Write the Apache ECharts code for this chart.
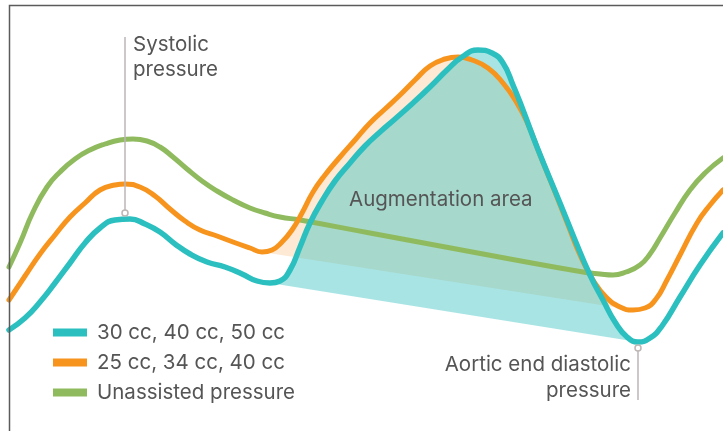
<!DOCTYPE html>
<html>
<head>
<meta charset="utf-8">
<script src="https://cdn.jsdelivr.net/npm/echarts@6/dist/echarts.min.js"></script>
<style>html,body{margin:0;padding:0;background:#fff}#c{width:723px;height:431px}</style>
</head>
<body>
<div id="c"></div>
<script>
// Curves: [time, pressure-position]
const tealCurve = [[9,330],[25,318],[40,302],[55,283],[70,263],[85,243],[100,228],[115,220],[130,219],[145,224],[160,232],[175,244],[190,254],[207,262],[225,267],[242,274],[257,281],[270,283],[280,281],[290,270],[300,247],[310,223],[322,201],[335,181],[350,163],[365,146],[380,132],[395,119],[413,103],[430,87],[447,70],[462,57],[478,50],[492,53],[503,63],[513,85],[523,110],[537,147],[560,203],[575,240],[590,275],[603,300],[615,322],[627,337],[638,342],[650,338],[662,326],[680,297],[700,265],[723,233]];
const orangeCurve = [[9,300],[25,276],[40,254],[55,235],[70,217],[85,203],[100,190],[115,185],[125,184],[140,187],[155,196],[170,209],[185,221],[200,230],[217,236],[233,242],[250,248],[262,252],[272,250],[282,242],[292,230],[302,213],[313,192],[325,175],[340,157],[355,140],[370,123],[385,109],[400,95],[415,80],[430,66],[445,59],[458,57],[472,60],[488,68],[503,83],[517,103],[527,122],[540,155],[555,192],[568,225],[580,255],[593,280],[606,297],[620,307],[633,310],[645,308],[656,299],[667,280],[680,255],[697,223],[710,205],[723,190]];
const greenCurve = [[9,267],[20,243],[33,212],[47,187],[60,172],[75,159],[90,150],[105,144],[120,140],[133,139],[147,141],[160,147],[173,157],[187,169],[202,181],[217,191],[233,200],[250,208],[265,213],[280,217],[300,220],[370,233],[440,246],[510,259],[583,272],[600,274],[613,275],[626,272],[640,265],[650,254],[660,238],[675,213],[690,190],[705,173],[723,158]];
const tealFillRange = [270, 638];
const orangeFillRange = [262, 633];
const seriesNames = ['30 cc, 40 cc, 50 cc', '25 cc, 34 cc, 40 cc', 'Unassisted pressure'];

const TEAL = '#2bbfbf', ORANGE = '#f7941d', GREEN = '#8fbb5e', TXT = '#555555', ANN = '#bdb6b4';
const FONT = 'Inter';
const FS = 20.5;

function smoothPath(pts, smooth) {
  let d = '', prevX, prevY, cpx0, cpy0;
  const n = pts.length;
  for (let i = 0; i < n; i++) {
    const x = pts[i][0], y = pts[i][1];
    if (i === 0) { d += 'M' + x + ' ' + y; cpx0 = x; cpy0 = y; }
    else {
      let cpx1, cpy1, nextCpx0, nextCpy0;
      if (i + 1 >= n) { cpx1 = x; cpy1 = y; }
      else {
        const nextX = pts[i+1][0], nextY = pts[i+1][1];
        let vx = nextX - prevX, vy = nextY - prevY;
        const lenPrev = Math.hypot(x - prevX, y - prevY), lenNext = Math.hypot(nextX - x, nextY - y);
        const r = lenNext / (lenNext + lenPrev);
        nextCpx0 = x + vx * smooth * r; nextCpy0 = y + vy * smooth * r;
        nextCpx0 = Math.max(Math.min(nextCpx0, Math.max(nextX, x)), Math.min(nextX, x));
        nextCpy0 = Math.max(Math.min(nextCpy0, Math.max(nextY, y)), Math.min(nextY, y));
        vx = nextCpx0 - x; vy = nextCpy0 - y;
        cpx1 = x - vx * lenPrev / lenNext; cpy1 = y - vy * lenPrev / lenNext;
        cpx1 = Math.max(Math.min(cpx1, Math.max(prevX, x)), Math.min(prevX, x));
        cpy1 = Math.max(Math.min(cpy1, Math.max(prevY, y)), Math.min(prevY, y));
        vx = x - cpx1; vy = y - cpy1;
        nextCpx0 = x + vx * lenNext / lenPrev; nextCpy0 = y + vy * lenNext / lenPrev;
      }
      d += 'C' + cpx0 + ' ' + cpy0 + ' ' + cpx1 + ' ' + cpy1 + ' ' + x + ' ' + y;
      cpx0 = nextCpx0; cpy0 = nextCpy0;
    }
    prevX = x; prevY = y;
  }
  return d;
}

function fillSeries(curve, range, color, z) {
  return {
    type: 'custom', silent: true, z: z, data: [[0, 0]], clip: false,
    renderItem: function (params, api) {
      const pts = curve.filter(p => p[0] >= range[0] && p[0] <= range[1]).map(p => api.coord(p));
      return { type: 'path', shape: { pathData: smoothPath(pts, 0.5) + 'Z' }, style: { fill: color, stroke: null } };
    }
  };
}

function lineSeries(name, curve, color, width, z) {
  return { name: name, type: 'line', data: curve, smooth: true, showSymbol: false, symbol: 'none', z: z,
    lineStyle: { color: color, width: width, cap: 'round', join: 'round' }, itemStyle: { color: color } };
}

const chart = echarts.init(document.getElementById('c'), null, { renderer: 'canvas' });
chart.setOption({
  animation: false,
  grid: { left: 0, right: 0, top: 0, bottom: 0 },
  xAxis: { type: 'value', min: 0, max: 723, show: false },
  yAxis: { type: 'value', min: 0, max: 431, inverse: true, show: false },
  legend: {
    data: seriesNames, orient: 'vertical', left: 53, top: 322, padding: 0, icon: 'rect',
    itemWidth: 34, itemHeight: 8, itemGap: 9, selectedMode: false,
    textStyle: { fontFamily: FONT, fontSize: FS, lineHeight: 20, color: TXT, padding: [0, 0, 0, 5] }
  },
  series: [
    fillSeries(orangeCurve, orangeFillRange, '#fde9d4', 1),
    fillSeries(tealCurve, tealFillRange, 'rgba(62,195,195,0.45)', 1.5),
    lineSeries(seriesNames[2], greenCurve, GREEN, 5, 3),
    lineSeries(seriesNames[1], orangeCurve, ORANGE, 5, 4),
    lineSeries(seriesNames[0], tealCurve, TEAL, 5.5, 5)
  ],
  graphic: [
    { type: 'polyline', z: 100, shape: { points: [[9.5, 431], [9.5, 5.5], [723, 5.5]] }, style: { stroke: '#5b5b5b', lineWidth: 1.5, fill: null } },
    { type: 'line', z: 100, shape: { x1: 125, y1: 37, x2: 125, y2: 210 }, style: { stroke: ANN, lineWidth: 1.5 } },
    { type: 'circle', z: 100, shape: { cx: 125, cy: 213, r: 3 }, style: { fill: '#fff', stroke: ANN, lineWidth: 1.5 } },
    { type: 'line', z: 100, shape: { x1: 638, y1: 351, x2: 638, y2: 400 }, style: { stroke: ANN, lineWidth: 1.5 } },
    { type: 'circle', z: 100, shape: { cx: 638, cy: 348, r: 3 }, style: { fill: '#fff', stroke: ANN, lineWidth: 1.5 } },
    { type: 'text', z: 100, style: { text: 'Systolic\npressure', x: 133, y: 32, font: FS + 'px ' + FONT, lineHeight: 25, fill: TXT, align: 'left', verticalAlign: 'top' } },
    { type: 'text', z: 100, style: { text: 'Augmentation area', x: 349, y: 200, font: FS + 'px ' + FONT, fill: TXT, align: 'left', verticalAlign: 'middle' } },
    { type: 'text', z: 100, style: { text: 'Aortic end diastolic\npressure', x: 631, y: 352, font: FS + 'px ' + FONT, lineHeight: 26, fill: TXT, align: 'right', verticalAlign: 'top' } }
  ]
});
</script>
</body>
</html>
